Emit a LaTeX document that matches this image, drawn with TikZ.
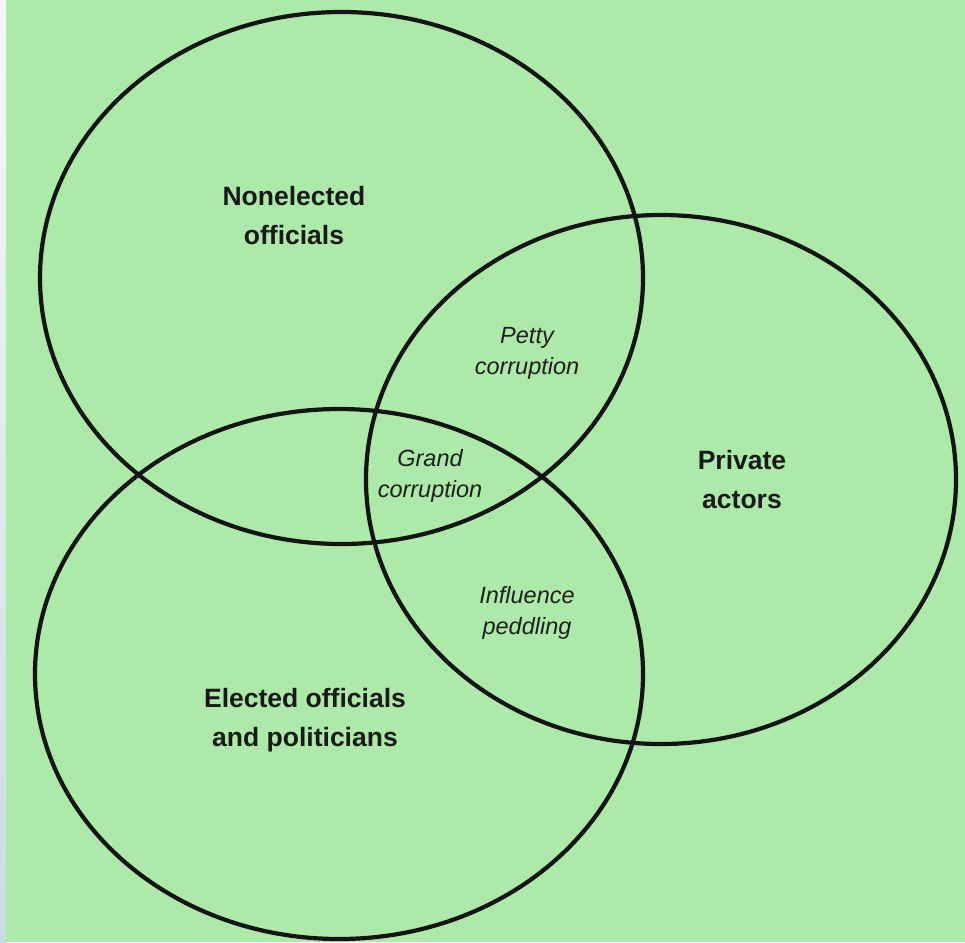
\documentclass[tikz,border=0pt]{standalone}
\usepackage{fontspec}
\setmainfont{Liberation Sans}
\definecolor{paper}{HTML}{ADE9A8}
\definecolor{edgetop}{HTML}{F4F8FA}
\definecolor{edgebot}{HTML}{C9DCE2}
\tikzset{
  setline/.style={line width=4.2pt, draw=black!92},
  grouplabel/.style={font=\fontsize{26.5}{39}\selectfont\bfseries, align=center, text=black!90},
  overlaplabel/.style={font=\fontsize{23.5}{31}\selectfont\itshape, align=center, text=black!88}
}
\begin{document}
\begin{tikzpicture}[x=1pt,y=-1pt]
  % canvas
  \fill[paper] (0,0) rectangle (965,942);
  \shade[top color=edgetop, bottom color=edgebot] (0,0) rectangle (6,942);
  \useasboundingbox (0,0) rectangle (965,942);

  % the three sets
  \draw[setline] (341.5,278) ellipse [x radius=301.5, y radius=266];
  \draw[setline] (661,479.5) ellipse [x radius=295, y radius=264.5];
  \draw[setline] (339,674) ellipse [x radius=304, y radius=265];

  % set names
  \node[grouplabel] (nonelected) at (294,216) {Nonelected\\officials};
  \node[grouplabel] (private) at (742,480) {Private\\actors};
  \node[grouplabel] (elected) at (305,720) {Elected officials\\and politicians};

  % overlaps
  \node[overlaplabel] (petty) at (527,353) {Petty\\corruption};
  \node[overlaplabel] (grand) at (430,476) {Grand\\corruption};
  \node[overlaplabel] (influence) at (527,613) {Influence\\peddling};
\end{tikzpicture}
\end{document}
